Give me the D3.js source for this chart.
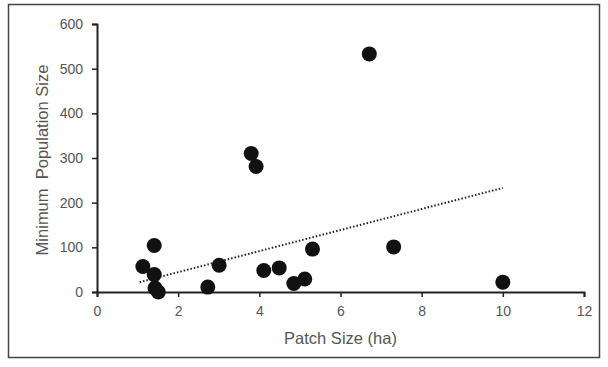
<!DOCTYPE html>
<html>
<head>
<meta charset="utf-8">
<script src="https://cdn.jsdelivr.net/npm/d3@7"></script>
<style>
  body { margin: 0; background: #fff; }
  svg { display: block; }
  .tick text { font-family: "Liberation Sans", Arial, sans-serif; font-size: 14px; fill: #555; }
  .lbl { font-family: "Liberation Sans", Arial, sans-serif; font-size: 16.5px; fill: #555; }
</style>
</head>
<body>
<svg id="chart"></svg>
<script>
// patch size (ha) and minimum population size
const patchSize = [1.13, 1.41, 1.41, 1.43, 1.51, 2.73, 3.01, 3.80, 3.92, 4.11, 4.49, 4.85, 5.12, 5.31, 6.71, 7.31, 10.0];
const popSize   = [57, 104, 39, 9, 0, 11, 60, 310, 281, 48, 54, 19, 29, 96, 533, 101, 22];

// dotted trend line ends
const trendX = [1.05, 10.0];
const trendY = [22, 233];

const xTicks = [0, 2, 4, 6, 8, 10, 12];
const yTicks = [0, 100, 200, 300, 400, 500, 600];

const width = 608, height = 367;
const margin = { left: 97, right: 24, top: 24, bottom: 75 };

const svg = d3.select("#chart")
    .attr("width", width)
    .attr("height", height);

// outer frame
svg.append("rect")
    .attr("x", 8.5).attr("y", 4.5)
    .attr("width", 591).attr("height", 353)
    .attr("fill", "none")
    .attr("stroke", "#444")
    .attr("stroke-width", 1.5);

const x = d3.scaleLinear().domain([0, 12]).range([margin.left, width - margin.right]);
const y = d3.scaleLinear().domain([0, 600]).range([height - margin.bottom, margin.top]);

const xAxis = svg.append("g")
    .attr("transform", `translate(0,${y(0)})`)
    .call(d3.axisBottom(x).tickValues(xTicks).tickSize(5).tickPadding(9));

const yAxis = svg.append("g")
    .attr("transform", `translate(${x(0)},0)`)
    .call(d3.axisLeft(y).tickValues(yTicks).tickSize(5).tickPadding(9));

[xAxis, yAxis].forEach(g => {
    g.select(".domain").attr("stroke", "#222").attr("stroke-width", 2);
    g.selectAll(".tick line").attr("stroke", "#222").attr("stroke-width", 1.5);
});

// trend line
svg.append("line")
    .attr("x1", x(trendX[0])).attr("y1", y(trendY[0]))
    .attr("x2", x(trendX[1])).attr("y2", y(trendY[1]))
    .attr("stroke", "#222")
    .attr("stroke-width", 2)
    .attr("stroke-dasharray", "1.5,2");

// points
svg.selectAll(".pt")
    .data(patchSize.map((d, i) => ({ px: d, py: popSize[i] })))
    .enter()
    .append("circle")
    .attr("class", "pt")
    .attr("cx", d => x(d.px))
    .attr("cy", d => y(d.py))
    .attr("r", 7.5)
    .attr("fill", "#111");

svg.append("text")
    .attr("class", "lbl")
    .attr("x", (x(0) + x(12)) / 2)
    .attr("y", 344)
    .attr("text-anchor", "middle")
    .text("Patch Size (ha)");

svg.append("text")
    .attr("class", "lbl")
    .attr("transform", `translate(48,160) rotate(-90)`)
    .attr("text-anchor", "middle")
    .attr("xml:space", "preserve")
    .style("white-space", "pre")
    .text("Minimum  Population Size");
</script>
</body>
</html>
